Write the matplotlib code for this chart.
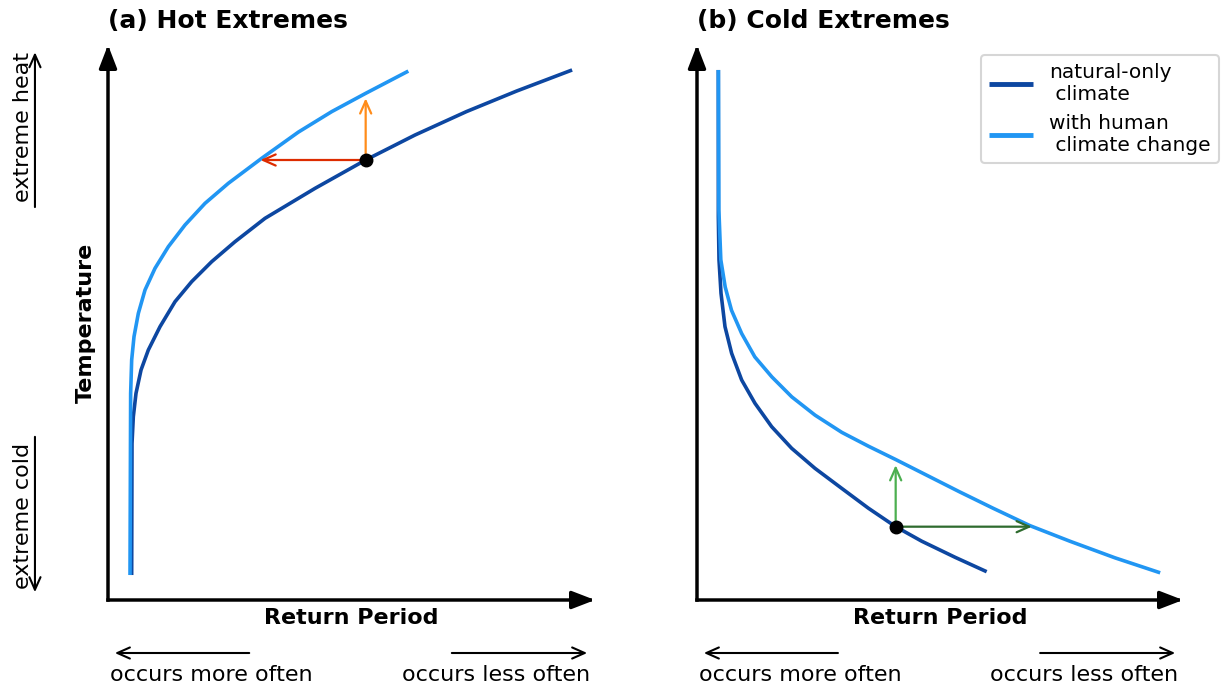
import matplotlib
matplotlib.use("Agg")
import matplotlib.pyplot as plt

# ---- data (axis units: 0-100 from origin to arrow tip) ----
hot_nat_x = [4.86, 4.93, 5.20, 5.75, 6.78, 8.28, 10.68, 13.76, 17.18, 21.29, 26.08, 32.24,
             42.51, 52.91, 63.04, 73.6, 83.9, 95.3]
hot_nat_y = [4.5, 28.23, 33.03, 37.24, 41.44, 45.05, 49.25, 53.75, 57.36, 60.96, 64.56, 68.77,
             74.17, 79.28, 83.78, 88.0, 91.7, 95.5]
hot_hum_x = [4.52, 4.65, 4.86, 5.34, 6.23, 7.60, 9.65, 12.39, 15.81, 19.92, 24.71, 31.55,
             39.08, 45.93, 52.91, 61.67]
hot_hum_y = [4.5, 37.24, 43.24, 47.45, 51.65, 55.86, 59.76, 63.66, 67.57, 71.47, 75.08, 79.58,
             84.3, 87.99, 91.29, 95.3]

cold_nat_x = [4.39, 4.39, 4.53, 4.94, 5.76, 7.13, 9.19, 11.93, 15.36, 19.48, 24.28, 29.77,
              35.25, 40.88, 46.23, 53.09, 59.6]
cold_nat_y = [95.5, 69.07, 61.26, 55.26, 49.25, 44.44, 39.64, 35.44, 31.23, 27.33, 23.72, 20.12,
              16.55, 13.21, 10.6, 7.7, 5.1]
cold_hum_x = [4.4, 4.5, 4.9, 5.8, 7.1, 9.2, 11.9, 15.4, 19.5, 24.3, 29.8, 35.3, 40.9, 47.0,
              54.0, 61.0, 68.5, 76.7, 86.0, 95.3]
cold_hum_y = [95.5, 70.3, 61.3, 56.4, 52.2, 48.0, 43.8, 40.2, 36.6, 33.3, 30.2, 27.7, 25.3, 22.6,
              19.5, 16.5, 13.4, 10.6, 7.6, 4.9]

hot_point = (52.91, 79.28)
hot_left_tip_x = 31.3
hot_up_tip_y = 90.4
cold_point = (40.88, 13.21)
cold_right_tip_x = 68.9
cold_up_tip_y = 24.3

titles = ["(a) Hot Extremes", "(b) Cold Extremes"]
labels = ["natural-only\n climate", "with human\n climate change"]

DARK = "#0D47A1"
LIGHT = "#2196F3"

fig = plt.figure(figsize=(12.24, 6.88), dpi=100)
W, H = 1224, 688

def make_ax(x0, x1, y0=600, y1=45):
    return fig.add_axes([x0 / W, (H - y0) / H, (x1 - x0) / W, (y0 - y1) / H])

ax1 = make_ax(108, 595)
ax2 = make_ax(697, 1183)

small = dict(arrowstyle="->,head_length=0.45,head_width=0.2", lw=1.5,
             color="k", shrinkA=0, shrinkB=0, mutation_scale=20)

for ax, title in zip([ax1, ax2], titles):
    ax.set_xlim(0, 100)
    ax.set_ylim(0, 100)
    ax.set_xticks([])
    ax.set_yticks([])
    for s in ax.spines.values():
        s.set_visible(False)
    ax.patch.set_alpha(0)
    # axis arrows
    for tip in [(1, 0), (0, 1)]:
        ax.annotate("", xy=tip, xytext=(0, 0), xycoords="axes fraction",
                    arrowprops=dict(arrowstyle="-|>,head_length=0.7,head_width=0.27",
                                    lw=2.5, color="k", shrinkA=0, shrinkB=0,
                                    mutation_scale=20, capstyle="projecting"),
                    annotation_clip=False)
    ax.set_title(title, loc="left", fontweight="bold", fontsize=18, pad=12)
    ax.text(0.5, -0.033, "Return Period", transform=ax.transAxes, ha="center",
            va="center", fontsize=16, fontweight="bold")
    # bottom frequency arrows
    ax.annotate("", xy=(0.014, -0.0955), xytext=(0.290, -0.0955),
                xycoords="axes fraction", arrowprops=small, annotation_clip=False)
    ax.annotate("", xy=(0.984, -0.0955), xytext=(0.706, -0.0955),
                xycoords="axes fraction", arrowprops=small, annotation_clip=False)
    ax.text(0.004, -0.135, "occurs more often", transform=ax.transAxes,
            ha="left", va="center", fontsize=16)
    ax.text(0.99, -0.135, "occurs less often", transform=ax.transAxes,
            ha="right", va="center", fontsize=16)

line_kw = dict(lw=2.6, solid_capstyle="butt", solid_joinstyle="round")
arr = dict(lw=1.6, shrinkA=0, shrinkB=0, mutation_scale=20)
head = "->,head_length=0.45,head_width=0.2"

# ---- panel (a) ----
ax1.plot(hot_nat_x, hot_nat_y, color=DARK, label=labels[0], **line_kw)
ax1.plot(hot_hum_x, hot_hum_y, color=LIGHT, label=labels[1], **line_kw)
ax1.annotate("", xy=(hot_left_tip_x, hot_point[1]), xytext=hot_point,
             arrowprops=dict(arrowstyle=head, color="#DD2C00", **arr))
ax1.annotate("", xy=(hot_point[0], hot_up_tip_y), xytext=hot_point,
             arrowprops=dict(arrowstyle=head, color="#FF8C1A", **arr))
ax1.plot([hot_point[0]], [hot_point[1]], "o", color="k", ms=9, zorder=5)

ax1.text(-0.045, 0.5, "Temperature", transform=ax1.transAxes, rotation=90,
         ha="center", va="center", fontsize=16, fontweight="bold")
# extreme heat / cold
ax1.annotate("", xy=(-0.150, 0.987), xytext=(-0.150, 0.708), xycoords="axes fraction",
             arrowprops=small, annotation_clip=False)
ax1.text(-0.175, 0.852, "extreme heat", transform=ax1.transAxes, rotation=90,
         ha="center", va="center", fontsize=16)
ax1.annotate("", xy=(-0.150, 0.014), xytext=(-0.150, 0.294), xycoords="axes fraction",
             arrowprops=small, annotation_clip=False)
ax1.text(-0.175, 0.151, "extreme cold", transform=ax1.transAxes, rotation=90,
         ha="center", va="center", fontsize=16)

# ---- panel (b) ----
ax2.plot(cold_nat_x, cold_nat_y, color=DARK, label=labels[0], **line_kw)
ax2.plot(cold_hum_x, cold_hum_y, color=LIGHT, label=labels[1], **line_kw)
ax2.annotate("", xy=(cold_right_tip_x, cold_point[1]), xytext=cold_point,
             arrowprops=dict(arrowstyle=head, color="#2E6B2E", **arr))
ax2.annotate("", xy=(cold_point[0], cold_up_tip_y), xytext=cold_point,
             arrowprops=dict(arrowstyle=head, color="#4CAF50", **arr))
ax2.plot([cold_point[0]], [cold_point[1]], "o", color="k", ms=9, zorder=5)

leg = ax2.legend(loc="upper right", bbox_to_anchor=(1219 / W, 1 - 55 / H),
                 bbox_transform=fig.transFigure, borderaxespad=0, fontsize=14.5,
                 handlelength=2.2, frameon=True, fancybox=True)
leg.get_frame().set_edgecolor("#cccccc")
leg.get_frame().set_linewidth(1.5)
for line in leg.get_lines():
    line.set_linewidth(3.5)

fig.savefig("out.png", dpi=100)
